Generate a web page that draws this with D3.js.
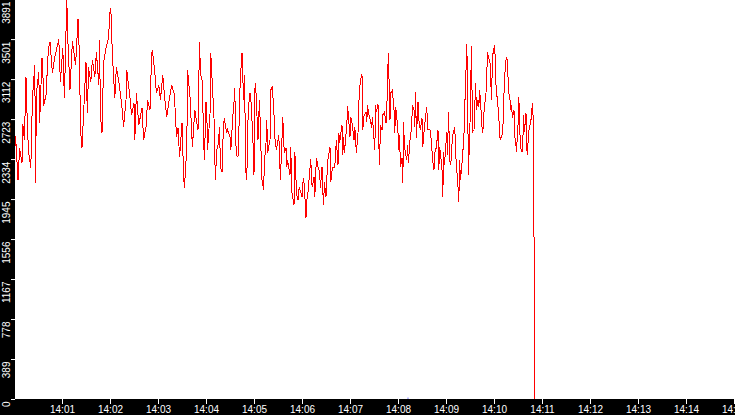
<!DOCTYPE html>
<html>
<head>
<meta charset="utf-8">
<script src="https://cdn.jsdelivr.net/npm/d3@7"></script>
<style>
  body { margin: 0; background: #000; }
  svg { display: block; }
</style>
</head>
<body>
<svg id="chart"></svg>
<script>
// seconds after 14:00:00 and the reading at that second (red series)
const seconds = [
  1, 2, 5, 7, 10, 11, 13, 15, 16, 18, 21, 23, 26, 27, 28, 31, 32, 35, 36, 37,
  40, 43, 45, 48, 51, 53, 56, 58, 61, 63, 66, 67, 70, 73, 77, 80, 82, 83, 85, 90,
  91, 92, 93, 96, 98, 101, 103, 106, 107, 108, 110, 112, 115, 118, 120, 121, 123, 126, 128, 132,
  135, 137, 140, 141, 145, 147, 150, 151, 153, 156, 160, 162, 165, 167, 170, 172, 173, 176, 178, 181,
  183, 186, 188, 191, 193, 197, 200, 202, 203, 205, 207, 210, 212, 213, 216, 217, 220, 223, 226, 228,
  230, 231, 232, 233, 235, 236, 237, 238, 240, 241, 242, 243, 245, 246, 247, 250, 251, 252, 253, 255,
  256, 257, 258, 260, 261, 262, 263, 266, 267, 270, 271, 272, 273, 275, 276, 277, 278, 280, 281, 282,
  283, 285, 286, 287, 288, 290, 291, 292, 293, 295, 296, 297, 298, 300, 301, 302, 305, 306, 307, 308,
  310, 312, 313, 315, 316, 317, 320, 321, 322, 323, 325, 326, 327, 328, 331, 332, 333, 336, 337, 338,
  340, 341, 342, 345, 346, 347, 350, 351, 352, 353, 355, 356, 357, 360, 361, 362, 363, 365, 366, 367,
  370, 371, 372, 373, 375, 376, 378, 380, 382, 383, 385, 386, 387, 388, 390, 392, 393, 395, 396, 398,
  401, 402, 403, 405, 406, 407, 410, 411, 412, 413, 416, 417, 420, 421, 423, 425, 426, 427, 428, 430,
  431, 432, 433, 435, 436, 437, 440, 441, 442, 443, 446, 447, 448, 451, 452, 453, 455, 456, 457, 458,
  460, 461, 463, 465, 466, 467, 468, 470, 471, 473, 475, 476, 477, 478, 480, 481, 482, 483, 485, 486,
  487, 488, 491, 492, 493, 495, 497, 498, 500, 501, 502, 503, 505, 506, 508, 510, 511, 513, 516, 517,
  520, 522, 523, 525, 526, 528, 530, 531, 532, 533, 535, 536, 537, 538, 541, 542, 543, 545, 546, 547,
  548, 551, 552, 555, 556, 557, 558, 560, 561, 562, 563, 565, 566, 567, 568, 570, 571, 572, 573, 575,
  577, 578, 580, 581, 582, 583, 585, 586, 587, 588, 590, 591, 592, 593, 595, 596, 597, 598, 600, 601,
  602, 603, 606, 607, 608, 610, 611, 612, 613, 615, 616, 617, 618, 620, 621, 622, 623, 625, 626, 627,
  628, 630, 631, 632, 633, 635, 636, 637, 638, 640, 641, 642, 643, 645, 646, 647, 648, 649, 650, 651
]
const readings = [
  2422, 2558, 2130, 2442, 2296, 2675, 2519, 3132, 2840, 2422, 2247, 2918, 3249, 2101, 2967, 3181, 2685, 3317, 3220, 2850,
  2957, 3405, 3473, 3171, 3327, 3395, 3502, 3084, 3414, 2928, 3900, 3541, 3006, 3482, 3249, 3696, 3298, 2636, 2442, 3278,
  2938, 2782, 3229, 3084, 3298, 3132, 3375, 3054, 3491, 2763, 2588, 3278, 3414, 3502, 3764, 3803, 3346, 2928, 3229, 3035,
  2831, 2646, 2909, 3200, 2928, 2763, 2879, 2519, 2977, 2665, 2831, 2519, 2646, 2909, 2811, 3346, 3395, 3181, 2977, 3054,
  2909, 3152, 2957, 2743, 2860, 3054, 2977, 2753, 2549, 2636, 2354, 2685, 2179, 2052, 2451, 3200, 2938, 2451, 2811, 2714,
  2617, 3103, 3473, 3171, 3103, 2879, 2519, 2325, 2889, 2782, 2422, 2549, 2763, 3366, 3200, 2733, 2325, 2130, 2403, 2471,
  2549, 2646, 2257, 2208, 2471, 2695, 2714, 2588, 2617, 2549, 2422, 2539, 2695, 2889, 3025, 2549, 2373, 2354, 2568, 2909,
  3132, 3366, 3132, 2909, 3152, 2198, 2130, 2588, 2840, 2977, 2938, 2733, 2685, 2179, 3006, 3074, 2519, 2763, 2909, 2588,
  2130, 2033, 2296, 2490, 2714, 2393, 2519, 3006, 3025, 3035, 2763, 2549, 2490, 2422, 2568, 2354, 2130, 2743, 2519, 2393,
  2442, 2257, 2325, 2179, 2451, 2033, 1887, 2403, 2257, 2004, 1936, 2033, 2052, 1965, 2101, 2150, 2062, 1761, 1936, 1965,
  2247, 2335, 2101, 2062, 2160, 1965, 2344, 2257, 2208, 2052, 2257, 2014, 1887, 2111, 1965, 2305, 2354, 2451, 2111, 2247,
  2257, 2393, 2519, 2276, 2588, 2490, 2665, 2373, 2549, 2393, 2665, 2850, 2549, 2743, 2665, 2519, 2646, 2519, 2393, 2588,
  2870, 3006, 3103, 3161, 2617, 2743, 2792, 2695, 2860, 2782, 2695, 2636, 2743, 2422, 2860, 2792, 2870, 2490, 2276, 2665,
  2617, 2763, 2792, 2685, 2811, 3132, 3366, 2714, 2977, 3006, 2811, 2588, 2840, 2792, 2588, 2422, 2568, 2257, 2344, 2101,
  2695, 2451, 2325, 2471, 2296, 2519, 2636, 2860, 2811, 2646, 2986, 2539, 2889, 2714, 2617, 2733, 2451, 2646, 2840, 2617,
  2617, 2490, 2335, 2228, 2393, 2451, 2617, 2228, 2451, 2403, 2228, 1965, 2403, 2276, 2597, 2373, 2792, 2305, 2276, 2403,
  2549, 2646, 2393, 2062, 1916, 2325, 2130, 2296, 2422, 2442, 2733, 3200, 3453, 3006, 2179, 2685, 3123, 3434, 2597, 2617,
  3074, 2811, 2909, 2840, 3006, 2909, 2646, 2588, 2743, 2840, 2977, 3171, 3375, 3327, 3268, 3074, 2909, 3327, 3414, 3444,
  3103, 3006, 2763, 2549, 2529, 2568, 2617, 2840, 3103, 3298, 3317, 3278, 3006, 2909, 2811, 2860, 2733, 2811, 2549, 2519,
  2403, 2665, 2938, 2695, 2451, 2403, 2500, 2763, 2597, 2782, 2422, 2373, 2588, 2665, 2695, 2782, 2879, 2733, 1576, 0
]
// second series, only a few low readings
const blueSeconds = [492, 493]
const blueReadings = [8, 8]

const yTicks = [0, 389, 778, 1167, 1556, 1945, 2334, 2723, 3112, 3501, 3891]
const xTickLabels = ['14:01', '14:02', '14:03', '14:04', '14:05', '14:06', '14:07', '14:08',
  '14:09', '14:10', '14:11', '14:12', '14:13', '14:14', '14:15']
const startTime = '14:00:00'
const endTime = '14:15:00'

const width = 735
const height = 415
const plot = { left: 15, top: 0, right: 735, bottom: 399 }

const day = '2020-01-01T'
const parseTime = d3.timeParse('%Y-%m-%dT%H:%M:%S')
const t0 = parseTime(day + startTime)
const t1 = parseTime(day + endTime)

const red = seconds.map((s, i) => ({ date: d3.timeSecond.offset(t0, s), value: readings[i] }))
const blue = blueSeconds.map((s, i) => ({ date: d3.timeSecond.offset(t0, s), value: blueReadings[i] }))

const svg = d3.select('#chart')
  .attr('width', width)
  .attr('height', height)
  .attr('viewBox', `0,0,${width},${height}`)

svg.append('rect')
  .attr('width', width)
  .attr('height', height)
  .attr('fill', '#000')

svg.append('rect')
  .attr('x', plot.left)
  .attr('y', plot.top)
  .attr('width', plot.right - plot.left)
  .attr('height', plot.bottom - plot.top)
  .attr('fill', '#fff')

svg.append('clipPath')
  .attr('id', 'plot-clip')
  .append('rect')
  .attr('x', plot.left)
  .attr('y', plot.top)
  .attr('width', plot.right - plot.left)
  .attr('height', plot.bottom - plot.top)

const x = d3.scaleTime()
  .domain([t0, t1])
  .range([plot.left - 1, plot.right - 1])

const y = d3.scaleLinear()
  .domain([0, 3891])
  .range([plot.bottom, plot.top - 1])

const line = d3.line()
  .x(d => x(d.date))
  .y(d => y(d.value))

const parseTick = d3.timeParse('%Y-%m-%dT%H:%M')
const xAxis = g =>
  g.attr('transform', `translate(0,${plot.bottom})`)
    .call(d3.axisBottom(x)
      .tickValues(xTickLabels.map(l => parseTick(day + l)))
      .tickFormat(d3.timeFormat('%H:%M'))
      .tickSize(5)
      .tickSizeOuter(0))
    .call(g => g.select('.domain').remove())
    .call(g => g.selectAll('.tick line').attr('stroke', '#fff'))
    .call(g => g.selectAll('.tick text')
      .attr('fill', '#fff')
      .attr('y', 14)
      .attr('dy', 0))

const yAxis = g =>
  g.attr('transform', `translate(${plot.left},0)`)
    .call(d3.axisLeft(y)
      .tickValues(yTicks)
      .tickFormat(d3.format('d'))
      .tickSize(4)
      .tickSizeOuter(0))
    .call(g => g.select('.domain').remove())
    .call(g => g.selectAll('.tick line').attr('stroke', '#fff'))
    .call(g => g.selectAll('.tick text')
      .attr('fill', '#fff')
      .attr('transform', 'rotate(-90)')
      .attr('text-anchor', 'end')
      .attr('x', -2)
      .attr('y', -5)
      .attr('dy', 0))

svg.append('g')
  .attr('font-family', '"DejaVu Sans Mono", monospace')
  .attr('font-size', 9)
  .call(xAxis)

svg.append('g')
  .attr('font-family', '"DejaVu Sans Mono", monospace')
  .attr('font-size', 9.5)
  .call(yAxis)

const lines = svg.append('g').attr('clip-path', 'url(#plot-clip)')

lines.append('path')
  .datum(blue)
  .attr('fill', 'none')
  .attr('stroke', '#0000ff')
  .attr('stroke-width', 1)
  .attr('d', line)

lines.append('path')
  .datum(red)
  .attr('fill', 'none')
  .attr('stroke', '#ff0000')
  .attr('stroke-width', 1)
  .attr('shape-rendering', 'crispEdges')
  .attr('d', line)
</script>
</body>
</html>
